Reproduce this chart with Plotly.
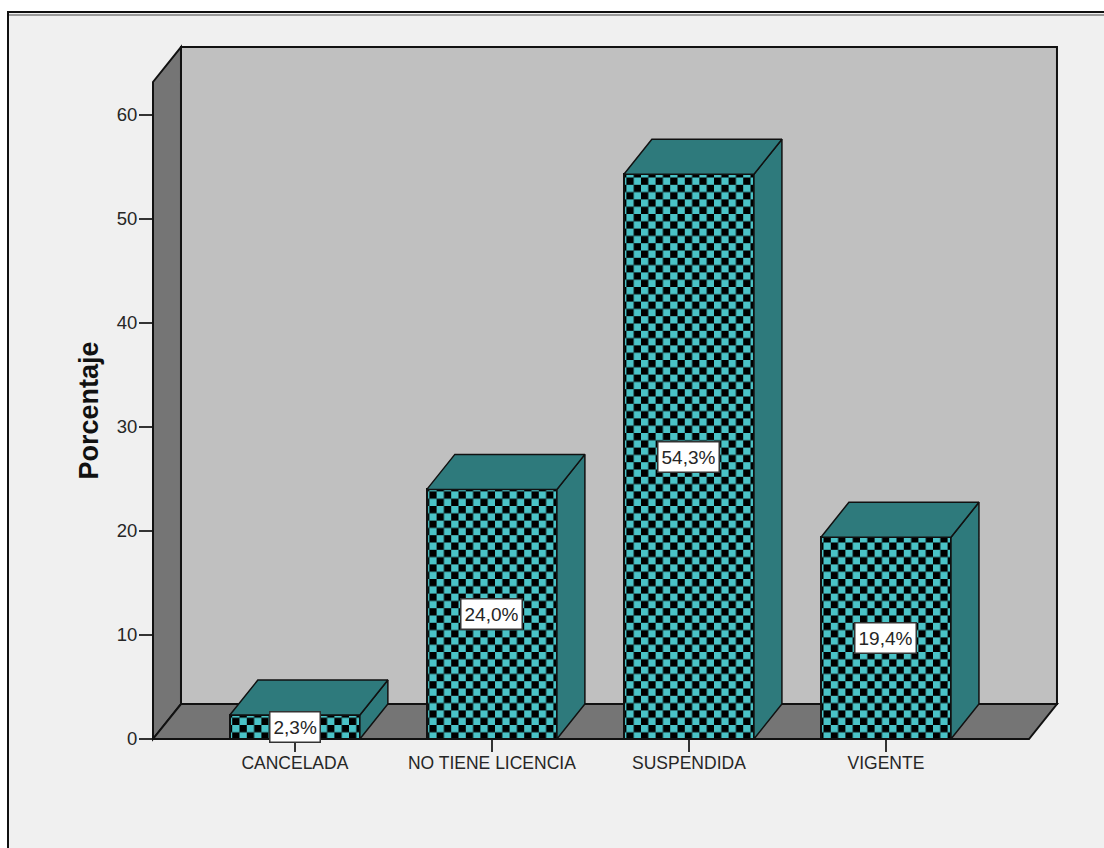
import plotly.graph_objects as go

categories = ["CANCELADA", "NO TIENE LICENCIA", "SUSPENDIDA", "VIGENTE"]
values = [2.3, 24.0, 54.3, 19.4]
labels = ["2,3%", "24,0%", "54,3%", "19,4%"]
y_ticks = [0, 10, 20, 30, 40, 50, 60]

W, H = 1104, 848
L, R, T, B = 153, 75, 82, 109
X_MIN, X_MAX = -0.72, 3.726
Y_MIN, Y_MAX = 0, 63.17
BAR_W = 0.66
DX, DY = 0.142, 3.365

INK = "#111111"
TXT = "#262626"
TEAL = "#2E7A7C"
CYAN = "#4AC3C7"
WALL = "#C0C0C0"
SIDE = "#757575"
PANEL = "#F0F0F0"
FONT = "Liberation Sans, Arial, sans-serif"
xs = list(range(len(categories)))


def pxn(x):
    return (x - X_MIN) / (X_MAX - X_MIN)


def pyn(y):
    return (y - Y_MIN) / (Y_MAX - Y_MIN)


def poly(points, fill, width=2):
    path = "M " + " L ".join(f"{pxn(x)} {pyn(y)}" for x, y in points) + " Z"
    return dict(type="path", xref="paper", yref="paper", path=path, fillcolor=fill,
                line=dict(color=INK, width=width), layer="below")


fw, fh = W - L - R, H - T - B
shapes = [
    dict(type="rect", xref="paper", yref="paper", x0=(8 - L) / fw, x1=(W + 5 - L) / fw,
         y0=-(H + 5 - T - fh) / fh, y1=1 + (T - 12) / fh, fillcolor=PANEL,
         line=dict(color=INK, width=2), layer="below"),
    dict(type="line", xref="paper", yref="paper", x0=(9 - L) / fw, x1=(W - L) / fw,
         y0=1 + (T - 15) / fh, y1=1 + (T - 15) / fh,
         line=dict(color="#9A9A9A", width=2), layer="below"),
    poly([(X_MIN + DX, Y_MIN + DY), (X_MAX + DX, Y_MIN + DY), (X_MAX + DX, Y_MAX + DY), (X_MIN + DX, Y_MAX + DY)], WALL),
    poly([(X_MIN, Y_MIN), (X_MIN + DX, Y_MIN + DY), (X_MIN + DX, Y_MAX + DY), (X_MIN, Y_MAX)], SIDE),
    poly([(X_MIN, Y_MIN), (X_MAX, Y_MIN), (X_MAX + DX, Y_MIN + DY), (X_MIN + DX, Y_MIN + DY)], SIDE),
]

fig = go.Figure()
fig.add_bar(
    x=xs, y=values, width=BAR_W, showlegend=False, hoverinfo="skip",
    marker=dict(color=CYAN, line=dict(color=INK, width=2),
                pattern=dict(shape=".", size=14.6, solidity=0.5, bgcolor="#000000", fgcolor=CYAN,
                             fillmode="replace")),
)

for x, v in zip(xs, values):
    a, b = x - BAR_W / 2, x + BAR_W / 2
    fig.add_scatter(x=[b, b + DX, b + DX, b, b], y=[0, DY, v + DY, v, 0], mode="lines", fill="toself",
                    fillcolor=TEAL, line=dict(color=INK, width=1.5), cliponaxis=False,
                    showlegend=False, hoverinfo="skip")
    fig.add_scatter(x=[a, b, b + DX, a + DX, a], y=[v, v, v + DY, v + DY, v], mode="lines", fill="toself",
                    fillcolor=TEAL, line=dict(color=INK, width=1.5), cliponaxis=False,
                    showlegend=False, hoverinfo="skip")

annotations = [
    dict(x=x, y=v / 2, text=t, showarrow=False, bgcolor="#FFFFFF", bordercolor="#333333", borderwidth=1.5,
         borderpad=3, height=23, font=dict(family=FONT, size=19, color=TXT))
    for x, v, t in zip(xs, values, labels)
]

fig.update_layout(
    width=W, height=H, margin=dict(l=L, r=R, t=T, b=B, pad=0),
    paper_bgcolor="#FFFFFF", plot_bgcolor="rgba(0,0,0,0)",
    bargap=0, shapes=shapes, annotations=annotations, showlegend=False,
    font=dict(family=FONT, size=18, color=TXT),
    xaxis=dict(range=[X_MIN, X_MAX], tickmode="array", tickvals=xs, ticktext=categories,
               ticks="outside", ticklen=12, tickwidth=1.5, tickcolor="#333333", showgrid=False, zeroline=False,
               showline=False, tickangle=0, ticklabelstandoff=-4, tickfont=dict(size=17.5)),
    yaxis=dict(range=[Y_MIN, Y_MAX], tickmode="array", tickvals=y_ticks,
               ticks="outside", ticklen=13, tickwidth=1.5, tickcolor="#333333", showgrid=False, zeroline=False,
               showline=False, ticklabelstandoff=-2, tickfont=dict(size=18.5),
               title=dict(text="<b>Porcentaje</b>", font=dict(family=FONT, size=27, color="#111111"), standoff=10)),
)

post = """
document.body.style.margin='0';
document.querySelectorAll('pattern').forEach(function(p){
  var s=7.3;
  p.setAttribute('width',2*s);p.setAttribute('height',2*s);
  p.setAttribute('patternTransform','translate(6.2,0.6)');
  p.innerHTML='<rect width="'+2*s+'" height="'+2*s+'" fill="#000000"/>'+
   '<rect x="0" y="0" width="'+s+'" height="'+s+'" fill="%s"/>'+
   '<rect x="'+s+'" y="'+s+'" width="'+s+'" height="'+s+'" fill="%s"/>';
});
""" % (CYAN, CYAN)

fig.write_html("out.html", post_script=post, config=dict(displayModeBar=False))
